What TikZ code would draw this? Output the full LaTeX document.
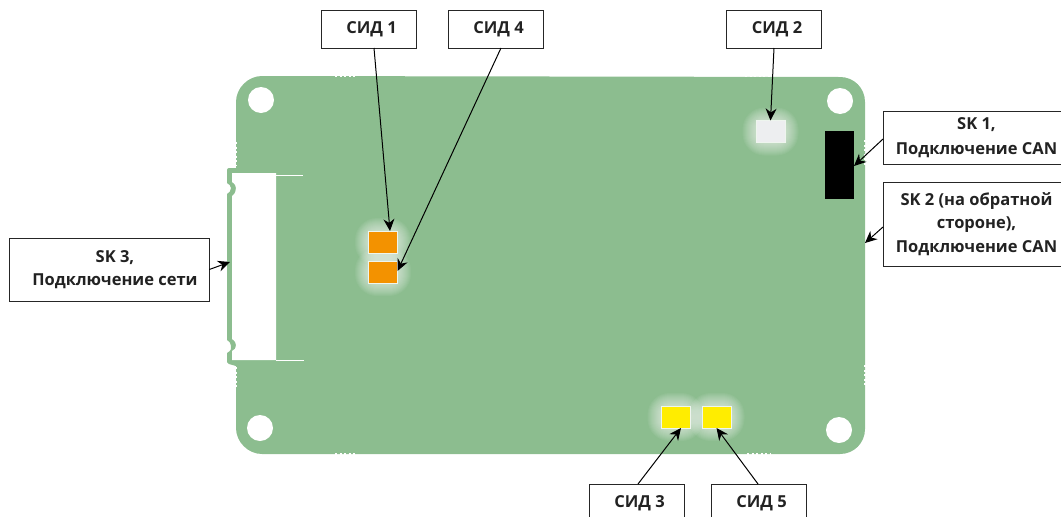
\documentclass[tikz,border=0pt]{standalone}
\usepackage{fontspec}
\setmainfont{Open Sans}
\usetikzlibrary{arrows.meta}

\definecolor{pcbgreen}{HTML}{8CBD8F}
\definecolor{ledorange}{HTML}{F39200}
\definecolor{ledyellow}{HTML}{FFED00}
\definecolor{ledwhite}{HTML}{EDEEF0}
\definecolor{labeltext}{HTML}{222222}

\tikzset{
  labelbox/.style={draw=black!85,line width=1pt,fill=white,outer sep=0pt,inner sep=0pt,
    align=center,text=labeltext,font=\fontsize{16.5}{23.5}\selectfont\bfseries},
  sidbox/.style={labelbox,minimum width=95pt,minimum height=38pt},
  led/.style={draw=white!85!pcbgreen,line width=1pt,outer sep=0pt,inner sep=0pt,
    minimum width=29pt,minimum height=22pt},
  hole/.style={fill=white},
  teeth/.style={white,line width=2pt,dash pattern=on 2pt off 2.5pt},
  pointer/.style={black,line width=1pt,-{Stealth[length=12pt,width=11pt]}}
}

\newcommand{\ledglow}[2]{
  \foreach \g in {13,12,...,1}
    \fill[white,opacity=.055,rounded corners=\g pt+9pt]
      (#1-15-\g,#2-11-\g) rectangle (#1+15+\g,#2+11+\g);
}

\begin{document}
\begin{tikzpicture}[x=1pt,y=-1pt]
  \useasboundingbox (0,0) rectangle (1061,517);

  \fill[pcbgreen] (262,76) -- (840,77) .. controls (854,77) and (865,88) .. (865,102) -- (865,429)
    .. controls (865,443) and (854,454) .. (840,454) -- (262,454)
    .. controls (248,454) and (236,442) .. (236,428) -- (236,366) -- (229,364)
    .. controls (227,363) and (227,362) .. (227,360) -- (227,353)
    .. controls (231,351) and (232,348) .. (231,346) .. controls (231,343) and (229,341) .. (227,340)
    -- (227,194) .. controls (229,193) and (231,191) .. (231,188) .. controls (231,186) and (229,184) .. (227,183)
    -- (227,170) .. controls (227,169) and (228,168) .. (229,168) -- (236,168) -- (236,102)
    .. controls (236,88) and (248,76) .. (262,76) -- cycle;

  \fill[white] (232,173) -- (276,173) -- (276,360) -- (232,360) -- (232,351)
    .. controls (235,350) and (236,348) .. (236,345) .. controls (236,343) and (235,341) .. (232,339)
    -- (232,196) .. controls (235,194) and (236,191) .. (236,188) .. controls (236,186) and (235,184) .. (232,182) -- cycle;
  \draw[white,line width=1pt] (276,175) -- (303,175);
  \draw[white,line width=1pt] (276,360) -- (304,360);

  \draw[teeth] (335,76) -- (357,76);
  \draw[teeth] (745,76) -- (770,76);
  \draw[teeth] (335,454) -- (357,454);
  \draw[teeth] (747,454) -- (770,454);
  \draw[teeth] (236,142) -- (236,165);
  \draw[teeth] (236,367) -- (236,388);
  \draw[teeth] (865,140) -- (865,165);
  \draw[teeth] (865,365) -- (865,386);

  \foreach \hx/\hy in {261/100,260/428,840/101,839/430}
    \fill[hole] (\hx,\hy) circle (13);

  \ledglow{383}{242}
  \ledglow{383}{272}
  \ledglow{770.5}{131.5}
  \ledglow{675.5}{417}
  \ledglow{716.5}{417}

  \node[led,fill=ledorange] (led1) at (383,242) {};
  \node[led,fill=ledorange] (led4) at (383,272) {};
  \node[led,fill=ledwhite] (led2) at (770.5,131.5) {};
  \node[led,fill=ledyellow] (led3) at (675.5,417) {};
  \node[led,fill=ledyellow] (led5) at (716.5,417) {};
  \node[fill=black,outer sep=0pt,inner sep=0pt,minimum width=29pt,minimum height=68pt] (can1) at (839.5,165) {};

  \coordinate (can2) at (865,243);
  \coordinate (lan) at (230,262);

  \node[sidbox] (sid1) at (368.5,29) {\hspace*{6pt}СИД 1};
  \node[sidbox] (sid4) at (495.5,29) {\hspace*{6pt}СИД 4};
  \node[sidbox] (sid2) at (774,29) {\hspace*{6pt}СИД 2};
  \node[sidbox] (sid3) at (636.5,503) {\hspace*{6pt}СИД 3};
  \node[sidbox] (sid5) at (758.5,503) {\hspace*{6pt}СИД 5};
  \node[labelbox,minimum width=187pt,minimum height=53pt] (sk1) at (976.5,137.5) {SK 1,\\[1.5pt]Подключение CAN};
  \node[labelbox,minimum width=187pt,minimum height=84pt] (sk2) at (976.5,224) {SK 2 (на обратной\\стороне),\\Подключение CAN};
  \node[labelbox,minimum width=199.5pt,minimum height=63pt] (sk3) at (109.5,269.5) {\hspace*{11pt}SK 3,\\\hspace*{11pt}Подключение сети};

  \draw[pointer] ([xshift=5.5pt]sid1.south) -- ([xshift=7pt]led1.north);
  \draw[pointer] ([xshift=5.5pt]sid4.south) -- ([yshift=1pt]led4.east);
  \draw[pointer] (sid2.south) -- (led2.north);
  \draw[pointer] ([xshift=1.5pt]sid3.north) -- ([xshift=5.5pt]led3.south);
  \draw[pointer] ([xshift=-0.5pt]sid5.north) -- (led5.south);
  \draw[pointer] ([yshift=-1.5pt]sk1.west) -- ([yshift=-1pt]can1.east);
  \draw[pointer] ([yshift=-3pt]sk2.west) -- (can2);
  \draw[pointer] (sk3.east) -- (lan);

\end{tikzpicture}
\end{document}
